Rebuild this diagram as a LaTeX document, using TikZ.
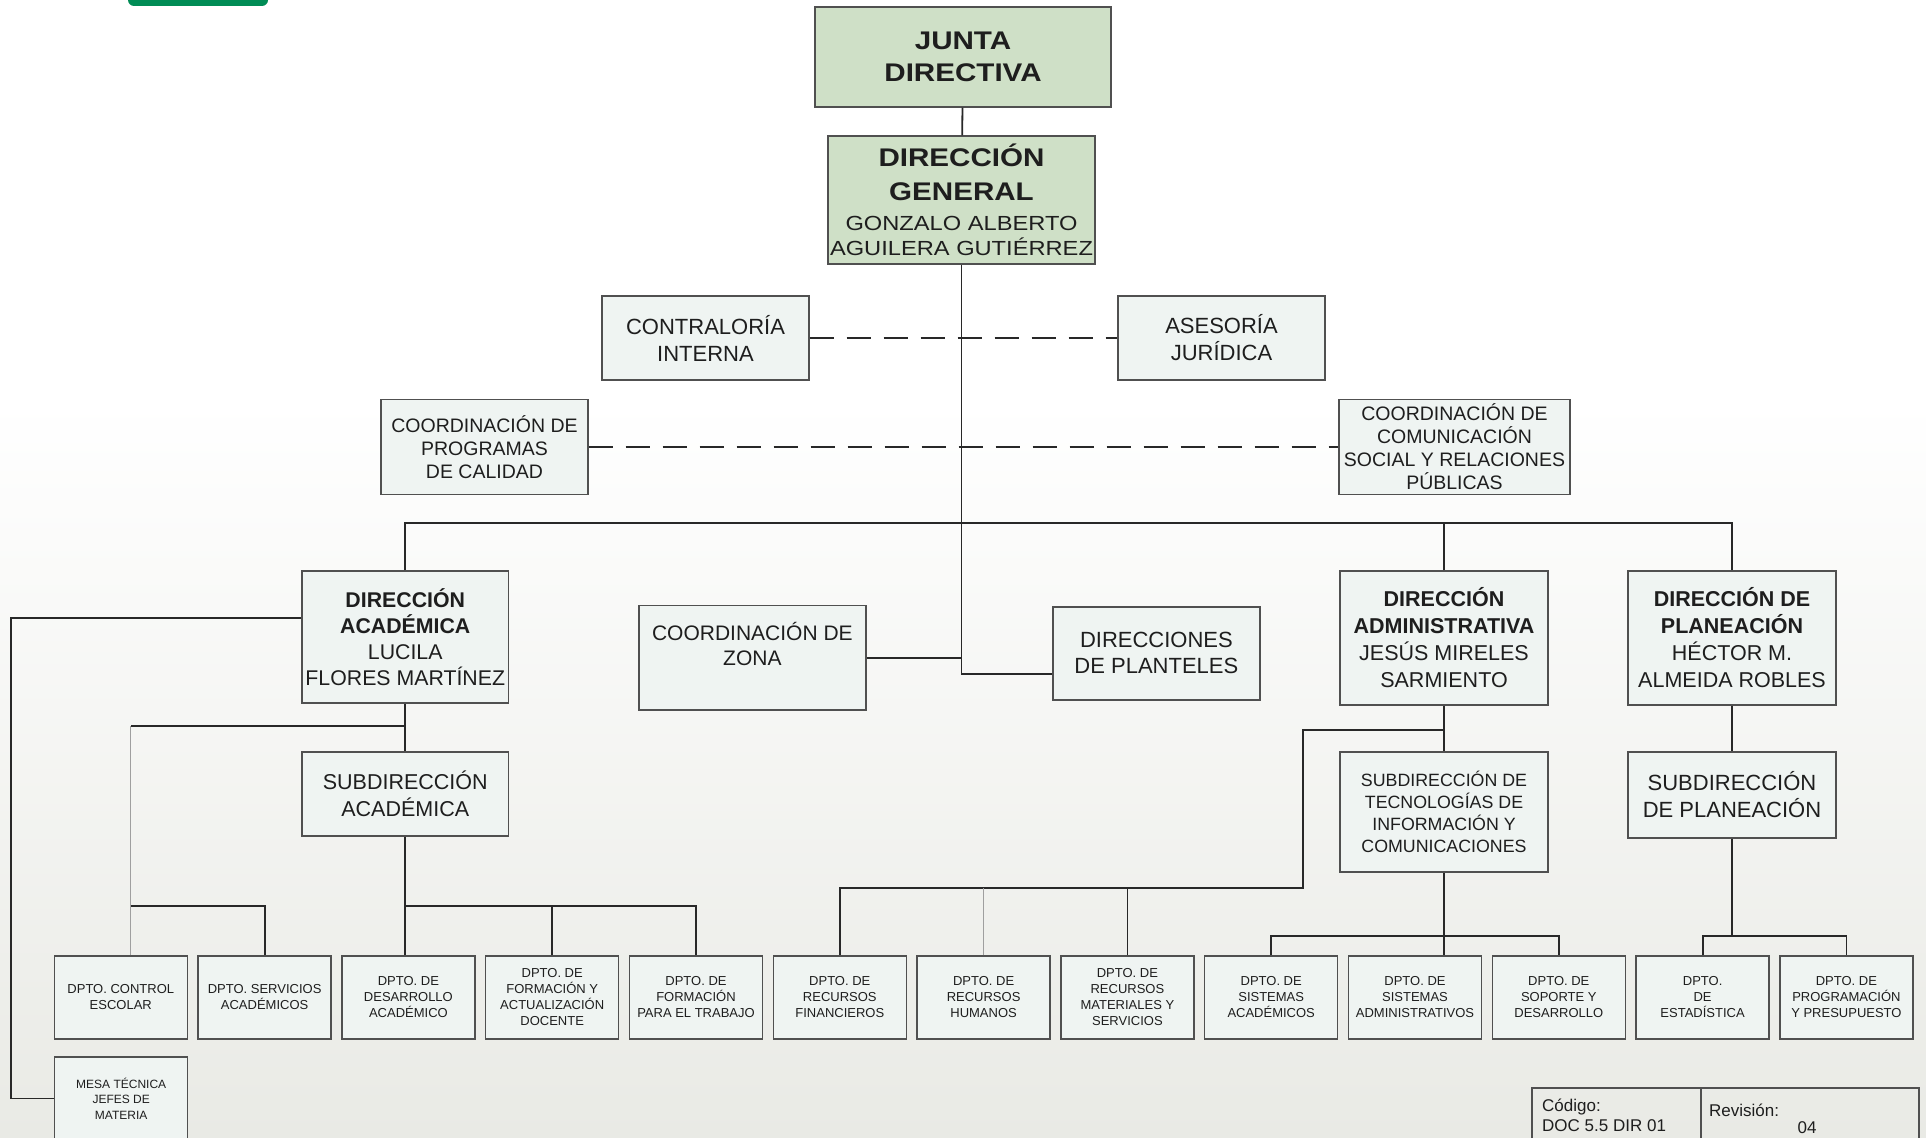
\documentclass[tikz,border=0pt]{standalone}
\usepackage{fontspec}
\setmainfont{Liberation Sans}
\newfontfamily\widefont{Liberation Sans}[FakeStretch=1.16]
\newcommand\fsz[2]{\fontsize{#1}{#2}\selectfont}

\definecolor{headgreen}{RGB}{207,224,199}
\definecolor{boxfill}{RGB}{239,244,242}
\definecolor{boxline}{RGB}{80,80,80}
\definecolor{linec}{RGB}{40,40,40}
\definecolor{txt}{RGB}{30,30,30}
\definecolor{bggray}{RGB}{233,234,229}
\definecolor{tabgreen}{RGB}{0,140,85}

\tikzset{
	box/.style={draw=boxline, line width=1.4pt, fill=boxfill, inner sep=0pt, align=center, text=txt},
	greenbox/.style={box, fill=headgreen},
	dept/.style={box, minimum width=133pt, minimum height=83pt, font=\fsz{13}{16}},
	conn/.style={draw=linec, line width=1.8pt},
	thinconn/.style={draw=gray!75, line width=1pt},
	dashconn/.style={conn, dash pattern=on 24pt off 13pt}
}

\begin{document}
\begin{tikzpicture}[x=1pt, y=-1pt]
		\useasboundingbox (0,0) rectangle (1926,1137);
		% Background
		\fill[white] (0,0) rectangle (1926,400);
		\shade[top color=white, bottom color=bggray] (0,400) rectangle (1926,1137);
		\fill[tabgreen, rounded corners=6pt] (128,-12) rectangle (268,6);
		
		% Nodes
		\node[greenbox, minimum width=296pt, minimum height=100pt, font=\widefont\bfseries\fsz{25.5}{32}] (jd) at (963,57) {JUNTA\\DIRECTIVA};
		\node[greenbox, minimum width=267pt, minimum height=128pt, font=\widefont\fsz{20.4}{25.5}] (dg) at (961.5,200) {{\bfseries\fsz{25.5}{30}DIRECCIÓN}\\[8.5pt]{\bfseries\fsz{25.5}{30}GENERAL}\\[4pt]GONZALO ALBERTO\\AGUILERA GUTIÉRREZ};
		
		\node[box, minimum width=207pt, minimum height=84pt, font=\fsz{22}{27}] (ci) at (705.5,338) {CONTRALORÍA\\INTERNA};
		\node[box, minimum width=207pt, minimum height=84pt, font=\fsz{22}{27}] (aj) at (1221.5,338) {ASESORÍA\\JURÍDICA};
		\node[box, minimum width=207pt, minimum height=95pt, font=\fsz{19.5}{23}] (cpc) at (484.5,447) {COORDINACIÓN DE\\PROGRAMAS\\DE CALIDAD};
		\node[box, minimum width=231pt, minimum height=95pt, font=\fsz{19.5}{23}] (ccs) at (1454.5,447) {COORDINACIÓN DE\\COMUNICACIÓN\\SOCIAL Y RELACIONES\\PÚBLICAS};
		
		\node[box, minimum width=206.5pt, minimum height=132pt, font=\fsz{21.3}{26}] (da) at (405.25,637) {\textbf{DIRECCIÓN}\\\textbf{ACADÉMICA}\\LUCILA\\FLORES MARTÍNEZ};
		\node[box, minimum width=227pt, minimum height=104.5pt, text depth=28pt, font=\fsz{21}{25.5}] (cz) at (752.4,657.8) {COORDINACIÓN DE\\ZONA};
		\node[box, minimum width=207pt, minimum height=93pt, font=\fsz{22}{26}] (dp) at (1156.4,653.4) {DIRECCIONES\\DE PLANTELES};
		\node[box, minimum width=208pt, minimum height=134pt, font=\fsz{21.5}{27}] (dadm) at (1444,638) {\textbf{DIRECCIÓN}\\\textbf{ADMINISTRATIVA}\\JESÚS MIRELES\\SARMIENTO};
		\node[box, minimum width=208pt, minimum height=134pt, font=\fsz{21.5}{27}] (dpl) at (1732,638) {\textbf{DIRECCIÓN DE}\\\textbf{PLANEACIÓN}\\HÉCTOR M.\\ALMEIDA ROBLES};
		
		\node[box, minimum width=206.5pt, minimum height=84pt, font=\fsz{21.5}{27}] (sa) at (405.25,794) {SUBDIRECCIÓN\\ACADÉMICA};
		\node[box, minimum width=208pt, minimum height=120pt, font=\fsz{17.8}{22.2}] (stic) at (1444,812) {SUBDIRECCIÓN DE\\TECNOLOGÍAS DE\\INFORMACIÓN Y\\COMUNICACIONES};
		\node[box, minimum width=208pt, minimum height=86pt, font=\fsz{22}{27}] (spl) at (1732,795) {SUBDIRECCIÓN\\DE PLANEACIÓN};
		
		\node[dept] (d1) at (120.8,997.5) {DPTO. CONTROL\\ESCOLAR};
		\node[dept] (d2) at (264.6,997.5) {DPTO. SERVICIOS\\ACADÉMICOS};
		\node[dept] (d3) at (408.4,997.5) {DPTO. DE\\DESARROLLO\\ACADÉMICO};
		\node[dept] (d4) at (552.2,997.5) {DPTO. DE\\FORMACIÓN Y\\ACTUALIZACIÓN\\DOCENTE};
		\node[dept] (d5) at (696,997.5) {DPTO. DE\\FORMACIÓN\\PARA EL TRABAJO};
		\node[dept] (d6) at (839.8,997.5) {DPTO. DE\\RECURSOS\\FINANCIEROS};
		\node[dept] (d7) at (983.6,997.5) {DPTO. DE\\RECURSOS\\HUMANOS};
		\node[dept] (d8) at (1127.4,997.5) {DPTO. DE\\RECURSOS\\MATERIALES Y\\SERVICIOS};
		\node[dept] (d9) at (1271.2,997.5) {DPTO. DE\\SISTEMAS\\ACADÉMICOS};
		\node[dept] (d10) at (1415,997.5) {DPTO. DE\\SISTEMAS\\ADMINISTRATIVOS};
		\node[dept] (d11) at (1558.8,997.5) {DPTO. DE\\SOPORTE Y\\DESARROLLO};
		\node[dept] (d12) at (1702.6,997.5) {DPTO.\\DE\\ESTADÍSTICA};
		\node[dept] (d13) at (1846.4,997.5) {DPTO. DE\\PROGRAMACIÓN\\Y PRESUPUESTO};
		\node[dept, font=\fsz{12}{15.6}] (mt) at (121.2,1098.5) {MESA TÉCNICA\\JEFES DE\\MATERIA};
		
		% Code table
		\draw[draw=boxline, line width=1.4pt] (1532,1088) rectangle (1919,1165);
		\draw[draw=boxline, line width=1.4pt] (1701,1088) -- (1701,1165);
		\node[anchor=base west, inner sep=0pt, text=txt, font=\fsz{17}{20}] (cod) at (1542,1111.7) {Código:};
		\node[anchor=base west, inner sep=0pt, text=txt, font=\fsz{17}{20}] (codnum) at (1542,1131.7) {DOC 5.5 DIR 01};
		\node[anchor=base west, inner sep=0pt, text=txt, font=\fsz{17}{20}] (rev) at (1709,1116.7) {Revisión:};
		\node[anchor=base, inner sep=0pt, text=txt, font=\fsz{17}{20}] (revnum) at (1807,1133) {04};
		
		% Edges
		\coordinate (top) at (963,523);
		\coordinate (acad) at (0,726);
		\coordinate (acadlow) at (0,906);
		\coordinate (adm) at (0,730);
		\coordinate (admlow) at (0,888);
		\coordinate (tic) at (0,936);
		
		\draw[conn] (jd) -- (dg);
		\draw[conn] (dg.south) |- ([yshift=-20.6pt]dp.west);
		\draw[conn] (cz.east) -- (cz.east -| dg.south);
		\draw[dashconn] (ci) -- (aj);
		\draw[dashconn] (cpc) -- (ccs);
		\draw[conn] (da.north) |- (top) -| (dpl.north);
		\draw[conn] (dadm.north) -- (dadm.north |- top);
		
		\draw[conn] ([yshift=19pt]da.west) -- ++(-290,0) |- (mt.west);
		\draw[conn] (da) -- (sa);
		\draw[thinconn] ([xshift=10pt]d1.north) -- ([xshift=10pt]d1.north |- acad);
		\draw[conn] (da.south |- acad) -- ([xshift=10pt]d1.north |- acad);
		\draw[conn] ([xshift=10pt]d1.north |- acadlow) -| (d2.north);
		\draw[conn] (sa) -- (sa.south |- d3.north);
		\draw[conn] (sa.south |- acadlow) -| (d5.north);
		\draw[conn] (d4.north) -- (d4.north |- acadlow);
		
		\draw[conn] (dadm) -- (stic);
		\draw[conn] (dadm.south |- adm) -- ++(-141,0) |- (d6.north |- admlow) -- (d6.north);
		\draw[thinconn] (d7.north) -- (d7.north |- admlow);
		\draw[conn] (d8.north) -- (d8.north |- admlow);
		\draw[conn] (stic) -- (stic.south |- d10.north);
		\draw[conn] (d9.north) |- (d11.north |- tic) -- (d11.north);
		
		\draw[conn] (dpl) -- (spl);
		\draw[conn] (spl.south) -- (spl.south |- tic);
		\draw[conn] (d12.north) |- (d13.north |- tic) -- (d13.north);
		
	\end{tikzpicture}
\end{document}
